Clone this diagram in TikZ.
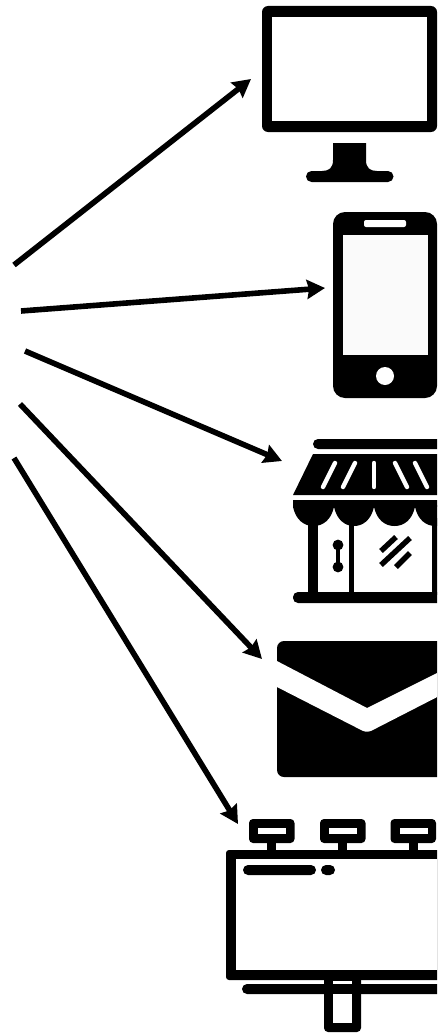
\documentclass[tikz,border=0pt]{standalone}
\usetikzlibrary{arrows.meta}
\begin{document}
\begin{tikzpicture}[x=1pt,y=-1pt,
  ink/.style={fill=black,draw=none},
  knock/.style={fill=white,draw=none},
  screenfill/.style={fill=black!2,draw=none},
  link/.style={draw=black,line width=5.6pt,-{Stealth[length=18pt,width=19pt,inset=2pt]}},
  slot/.style={draw=white,line width=4.4pt,line cap=round},
  hatch/.style={draw=black,line width=5.4pt}]
\useasboundingbox (0,0) rectangle (437,1033);
\fill[white] (0,0) rectangle (437,1033);
\clip (0,0) rectangle (437,1033);

% Monitor
\fill[ink,rounded corners=6pt] (262,6) rectangle (437,132);
\fill[knock] (272,17) rectangle (427,121);
\fill[ink] (333,143) -- (366,143) -- (366,160) .. controls (366,168) and (370,171) .. (377,171)
  -- (388,171) arc (-90:90:5.5) -- (311.5,182) arc (90:270:5.5) -- (322,171)
  .. controls (329,171) and (333,168) .. (333,160) -- cycle;

% Phone
\fill[ink,rounded corners=12pt] (333,212) rectangle (437,398);
\fill[screenfill] (343,235) rectangle (428,355);
\fill[knock,rounded corners=2pt] (364,220) rectangle (406,227);
\fill[knock] (385,376) circle (9);

% Store
\fill[ink,rounded corners=5pt] (313,439) rectangle (450,449);
\fill[ink] (313,454) -- (450,454) -- (450,495) -- (293,495) -- cycle;
\foreach \a/\b in {323/335,343/355}{\draw[slot] (\a,487) -- (\b,463);}
\draw[slot] (374,487) -- (374,463);
\foreach \a/\b in {395/407,415/427}{\draw[slot] (\a,463) -- (\b,487);}
\fill[ink] (293,500) -- (450,500) -- (450,507) -- (293,507) -- cycle;
\foreach \p/\q in {293/334,334/374,374/415,415/456}{
  \fill[ink] (\p,505) -- (\p,507)
    .. controls (\p+3,520) and (\p+11,526) .. ({(\p+\q)/2},526)
    .. controls (\q-11,526) and (\q-3,520) .. (\q,507) -- (\q,505) -- cycle;}
\fill[ink] (308,520) rectangle (318,595);
\fill[ink] (349,518) rectangle (354,595);
\fill[ink] (432,518) rectangle (440,595);
\fill[ink,rounded corners=5pt] (293,592) rectangle (450,603);
\fill[ink] (338,545) circle (5.4);
\fill[ink] (338,567) circle (5.4);
\fill[ink] (335.6,545) rectangle (340.4,567);
\draw[hatch] (381,551) -- (396,537);
\draw[hatch] (381,565) -- (410,538);
\draw[hatch] (396,567) -- (410,553);

% Envelope
\fill[ink,rounded corners=7pt] (277,641) rectangle (460,777);
\fill[knock] (275,660) -- (367,708) -- (445,669) -- (445,693)
  [rounded corners=5pt] -- (367,733) [sharp corners] -- (275,686) -- cycle;

% Billboard
\foreach \o in {249,320,390.5}{
  \fill[ink,rounded corners=4pt] (\o,819) rectangle (\o+45.5,843);
  \fill[knock] (\o+9,828) rectangle (\o+37,834);
  \fill[ink] (\o+18,843) rectangle (\o+27,851);
}
\fill[ink,rounded corners=3pt] (226,850) rectangle (460,980);
\fill[knock] (236,859) rectangle (450,970);
\fill[ink,rounded corners=5pt] (243,865) rectangle (316,875);
\fill[ink,rounded corners=5pt] (321,865) rectangle (335,875);
\fill[ink,rounded corners=5pt] (242,984) rectangle (460,994);
\fill[ink,rounded corners=4pt] (324,975) rectangle (361,1032);
\fill[knock] (333,980.5) rectangle (352,984);
\fill[knock] (333,994) rectangle (352,1023);

% Connectors
\coordinate (s1) at (14,265);  \coordinate (t1) at (251,79);
\coordinate (s2) at (21,311);  \coordinate (t2) at (325,288);
\coordinate (s3) at (25,351);  \coordinate (t3) at (282,461);
\coordinate (s4) at (20,404);  \coordinate (t4) at (262,659);
\coordinate (s5) at (14,458);  \coordinate (t5) at (238,824);
\foreach \i in {1,...,5}{\draw[link] (s\i) -- (t\i);}
\end{tikzpicture}
\end{document}
